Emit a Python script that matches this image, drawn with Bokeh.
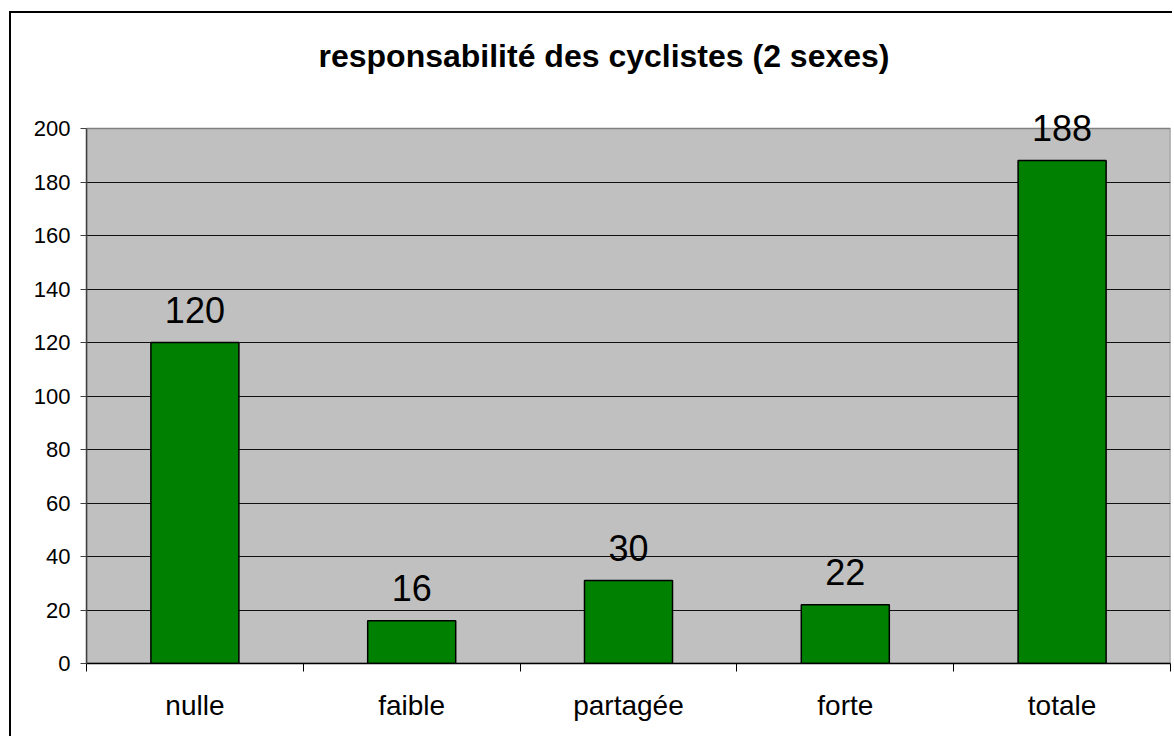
from bokeh.plotting import figure
from bokeh.models import FixedTicker, Range1d, ColumnDataSource, LabelSet
from bokeh.embed import file_html
from bokeh.resources import INLINE
from bokeh.core.properties import value

# ---- data ----
categories = ["nulle", "faible", "partagée", "forte", "totale"]
counts = [120, 16, 31, 22, 188]
count_labels = ["120", "16", "30", "22", "188"]
y_ticks = [0, 20, 40, 60, 80, 100, 120, 140, 160, 180, 200]
title_text = "responsabilité des cyclistes (2 sexes)"

FONT = "Liberation Sans"

# ---- layout (pixels) ----
W, H = 1163, 725              # canvas size (after 11/13 px offset + border)
FRAME_TOP = 82                # frame top in canvas px (white headroom above the grey area)
PLOT_TOP = 115                # where the grey plotting area (value 200) starts
FRAME_BOTTOM_PAD = 75
px_per_unit = (H - FRAME_BOTTOM_PAD - PLOT_TOP) / (y_ticks[-1] - y_ticks[0])
y_end = y_ticks[-1] + (PLOT_TOP - FRAME_TOP) / px_per_unit

xs = [i + 0.5 for i in range(len(categories))]
bounds = list(range(len(categories) + 1))
src = ColumnDataSource(dict(x=xs, top=counts, label=count_labels))

p = figure(width=W, height=H,
           x_range=Range1d(0, len(categories)), y_range=Range1d(y_ticks[0], y_end),
           output_backend="svg", toolbar_location=None,
           min_border_left=75, min_border_right=4, min_border_top=FRAME_TOP,
           min_border_bottom=FRAME_BOTTOM_PAD)
p.styles = {"margin-left": "9px", "margin-top": "11px",
            "border-left": "2px solid black", "border-top": "2px solid black"}

p.background_fill_color = "white"
p.border_fill_color = "white"
p.outline_line_color = None

# grey plotting area
p.quad(left=[0], right=[len(categories)], bottom=[y_ticks[0]], top=[y_ticks[-1]],
       fill_color="#C0C0C0", line_color="#808080", line_width=1.5, level="image")

# title
p.title.text = title_text
p.title.align = "left"
p.title.offset = 232
p.title.standoff = 43
p.title.text_font = FONT
p.title.text_font_size = "32px"
p.title.text_font_style = "bold"
p.title.text_color = "black"

# grid
p.xgrid.grid_line_color = None
p.ygrid.ticker = FixedTicker(ticks=y_ticks[1:-1])
p.ygrid.grid_line_color = "#101010"
p.ygrid.grid_line_width = 1

# bars
p.vbar(x="x", top="top", bottom=0, width=0.406, source=src,
       fill_color="#008000", line_color="black", line_width=1.5)

labels = LabelSet(x="x", y="top", text="label", source=src,
                  text_align="center", text_baseline="alphabetic", y_offset=20,
                  text_font=value(FONT), text_font_size="36px", text_color="black")
p.add_layout(labels)

# x axis
xa = p.xaxis[0]
xa.ticker = FixedTicker(ticks=xs, minor_ticks=bounds)
xa.major_label_overrides = {x: c for x, c in zip(xs, categories)}
xa.major_tick_out = 0
xa.major_tick_in = 0
xa.minor_tick_out = 8
xa.minor_tick_in = 0
xa.minor_tick_line_color = "black"
xa.axis_line_color = "black"
xa.axis_line_width = 1.5
xa.major_label_text_font = FONT
xa.major_label_text_font_size = "28px"
xa.major_label_text_color = "black"
xa.major_label_standoff = 18

# y axis
ya = p.yaxis[0]
ya.ticker = FixedTicker(ticks=y_ticks)
ya.bounds = (y_ticks[0], y_ticks[-1])
ya.major_tick_out = 6
ya.major_tick_in = 0
ya.minor_tick_line_color = None
ya.major_tick_line_color = "#404040"
ya.axis_line_color = "#404040"
ya.axis_line_width = 1.5
ya.major_label_text_font = FONT
ya.major_label_text_font_size = "22px"
ya.major_label_text_color = "black"
ya.major_label_standoff = 10

open("out.html", "w").write(file_html(p, INLINE))
